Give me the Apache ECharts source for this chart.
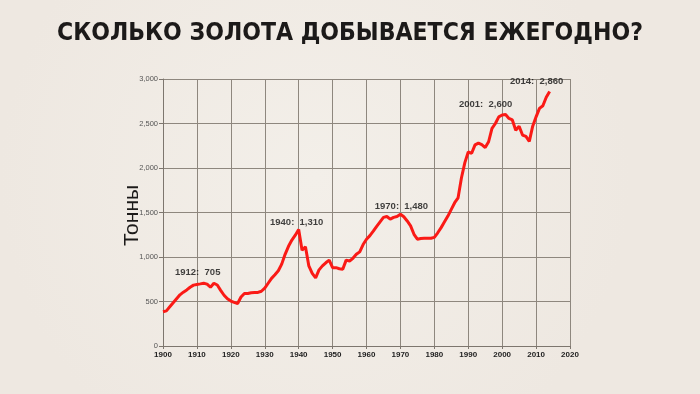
<!DOCTYPE html>
<html>
<head>
<meta charset="utf-8">
<script src="https://cdn.jsdelivr.net/npm/echarts@6/dist/echarts.min.js"></script>
<style>
html,body{margin:0;padding:0;background:#f1ece6;}
#c{width:700px;height:394px;}
</style>
</head>
<body>
<div id="c"></div>
<script>
const title = 'СКОЛЬКО ЗОЛОТА ДОБЫВАЕТСЯ ЕЖЕГОДНО?';
const yName = 'Тонны';
const years = [];
for (let y = 1900; y <= 2014; y++) years.push(y);
const production = [
  385,395,440,485,530,575,605,630,660,684,
  692,698,705,695,660,705,685,625,570,530,
  505,490,478,550,590,590,598,600,602,615,
  650,705,760,800,845,920,1030,1120,1190,1245,
  1310,1075,1115,900,815,765,855,900,935,965,
  880,880,868,862,965,955,985,1030,1058,1140,
  1200,1240,1290,1345,1395,1445,1455,1425,1445,1455,
  1480,1452,1405,1350,1255,1200,1208,1210,1210,1210,
  1220,1272,1330,1395,1460,1535,1610,1665,1890,2060,
  2180,2165,2260,2280,2262,2230,2295,2445,2500,2575,
  2595,2600,2557,2540,2425,2470,2370,2355,2300,2470,
  2575,2670,2700,2795,2860
];
const annYears = [1912, 1940, 1970, 2001, 2014];
const annValues = [705, 1310, 1480, 2600, 2860];
const xTicks = [1900,1910,1920,1930,1940,1950,1960,1970,1980,1990,2000,2010,2020];
const yTicks = [0,500,1000,1500,2000,2500,3000];

const labelOffsets = [[-6,0],[-2,4],[1,3],[-20,1],[-13,1]];

const chart = echarts.init(document.getElementById('c'));
chart.setOption({
  backgroundColor: {
    type: 'radial', x: 0.45, y: 0.45, r: 0.8,
    colorStops: [{offset: 0, color: '#f3efe9'}, {offset: 1, color: '#eee8e1'}]
  },
  animation: false,
  title: {
    text: title, left: 'center', top: 16,
    textStyle: {fontFamily: 'DejaVu Sans Condensed', fontWeight: 'bold', fontSize: 24.5, color: '#1c1a19'}
  },
  grid: {left: 163, right: 130, top: 79, bottom: 48, containLabel: false},
  xAxis: {
    type: 'value', min: xTicks[0], max: xTicks[xTicks.length-1], interval: 10,
    axisLine: {show: true, lineStyle: {color: '#7d766e', width: 1}},
    axisTick: {show: true, length: 3, lineStyle: {color: '#7d766e'}},
    axisLabel: {color: '#222', fontFamily: 'Liberation Sans', fontWeight: 'bold', fontSize: 8, margin: 5,
      formatter: v => String(v)},
    splitLine: {show: true, lineStyle: {color: '#8e877e', width: 1}}
  },
  yAxis: {
    type: 'value', min: yTicks[0], max: yTicks[yTicks.length-1], interval: 500,
    name: yName, nameLocation: 'middle', nameGap: 20, nameRotate: 90, nameMoveOverlap: false,
    nameTextStyle: {fontFamily: 'Liberation Sans Narrow, Liberation Sans', fontSize: 21, color: '#1c1a19', padding: [0, 6, 0, 0]},
    axisLine: {show: true, lineStyle: {color: '#7d766e', width: 1}},
    axisTick: {show: true, length: 4, lineStyle: {color: '#7d766e'}},
    axisLabel: {color: '#555', fontFamily: 'Liberation Sans', fontSize: 7.5, margin: 5,
      formatter: v => v.toLocaleString('en-US')},
    splitLine: {show: true, lineStyle: {color: '#8e877e', width: 1}}
  },
  series: [{
    type: 'line',
    data: years.map((y, i) => [y, production[i]]),
    symbol: 'none',
    lineStyle: {color: '#fa1a16', width: 3},
    z: 3
  }, {
    type: 'scatter',
    data: annYears.map((y, i) => ({
      value: [y, annValues[i]],
      label: {offset: labelOffsets[i]}
    })),
    symbolSize: 0,
    silent: true,
    label: {
      show: true, position: 'top', distance: 6,
      formatter: p => p.value[0] + ':  ' + p.value[1].toLocaleString('en-US'),
      fontFamily: 'Liberation Sans', fontWeight: 'bold', fontSize: 9.5, color: '#111'
    },
    z: 4
  }]
});
</script>
</body>
</html>
